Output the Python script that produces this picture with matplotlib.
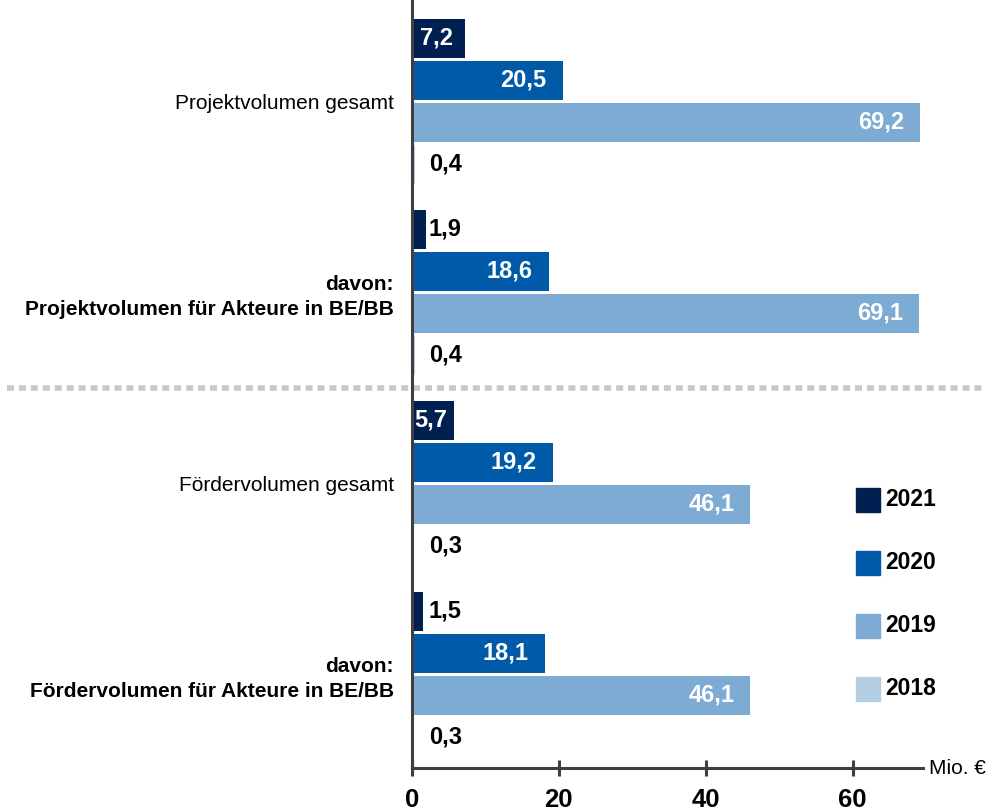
import matplotlib.pyplot as plt
import numpy as np
from matplotlib.patches import Rectangle

plt.rcParams['font.family'] = ['Liberation Sans', 'DejaVu Sans']

# Daten (Mio. €)
kategorien = ['Projektvolumen gesamt',
              'davon:\nProjektvolumen für Akteure in BE/BB',
              'Fördervolumen gesamt',
              'davon:\nFördervolumen für Akteure in BE/BB']
kategorie_fett = [False, True, False, True]
jahre = ['2021', '2020', '2019', '2018']
werte_2021 = [7.2, 1.9, 5.7, 1.5]
werte_2020 = [20.5, 18.6, 19.2, 18.1]
werte_2019 = [69.2, 69.1, 46.1, 46.1]
werte_2018 = [0.4, 0.4, 0.3, 0.3]
farben = ['#002052', '#005aa7', '#7eabd4', '#b3cde3']
x_ticks = [0, 20, 40, 60]

serien = [werte_2021, werte_2020, werte_2019, werte_2018]

fig = plt.figure(figsize=(10.04, 8.11), dpi=100)
ax = fig.add_axes([412 / 1004, 43 / 811, 511 / 1004, 768 / 811])

pos = np.arange(len(kategorien))
schritt = 0.22
hoehe = 0.204

for j, (werte, farbe) in enumerate(zip(serien, farben)):
    y = pos + (j - 1.5) * schritt
    ax.barh(y, werte, height=hoehe, color=farbe, zorder=2)
    for yi, v in zip(y, werte):
        txt = f'{v:.1f}'.replace('.', ',')
        if v < 4:
            # zu kurz: Wert rechts neben der Achse
            ax.text(2.3, yi, txt, ha='left', va='center', color='black',
                    fontsize=17, fontweight='bold', zorder=3)
        elif v < 10:
            ax.text(v / 2 - 0.3, yi, txt, ha='center', va='center', color='white',
                    fontsize=17, fontweight='bold', zorder=3)
        else:
            ax.text(v - 2.2, yi, txt, ha='right', va='center', color='white',
                    fontsize=17, fontweight='bold', zorder=3)

ax.set_xlim(0, 69.6)
ax.set_ylim(3.49, -0.531)

# Achsen
for s in ['top', 'right']:
    ax.spines[s].set_visible(False)
for s in ['left', 'bottom']:
    ax.spines[s].set_color('#3f3f3f')
    ax.spines[s].set_linewidth(2.2)
    ax.spines[s].set_zorder(4)

ax.set_xticks(x_ticks)
ax.set_xticklabels([str(t) for t in x_ticks], fontsize=18.5, fontweight='bold')
ax.tick_params(axis='x', direction='inout', length=11.5, width=2.2,
               color='#3f3f3f', pad=8.5)

ax.set_yticks(pos)
ax.set_yticklabels(kategorien, fontsize=15, linespacing=1.4)
for lab, fett in zip(ax.get_yticklabels(), kategorie_fett):
    lab.set_ha('right')
    lab.set_multialignment('right')
    if fett:
        lab.set_fontweight('bold')
ax.tick_params(axis='y', length=0, pad=13)

ax.text(1.012, 0, 'Mio. €', transform=ax.transAxes, ha='left', va='center',
        fontsize=15)

# gepunktete Trennlinie
ax.axhline(1.5, xmin=-0.793, xmax=1.123, clip_on=False, color='#c8c8c8',
           lw=4, linestyle=(0, (1.25, 0.9)), zorder=1)

# Legende
for i, (jahr, farbe) in enumerate(zip(jahre, farben)):
    yc = 811 - (499.5 + i * 63)
    fig.add_artist(Rectangle((856 / 1004, (yc - 12) / 811), 24 / 1004, 24 / 811,
                             transform=fig.transFigure, color=farbe))
    fig.text(885 / 1004, yc / 811, jahr, ha='left', va='center',
             fontsize=16.5, fontweight='bold')

fig.savefig('out.png', dpi=100)
